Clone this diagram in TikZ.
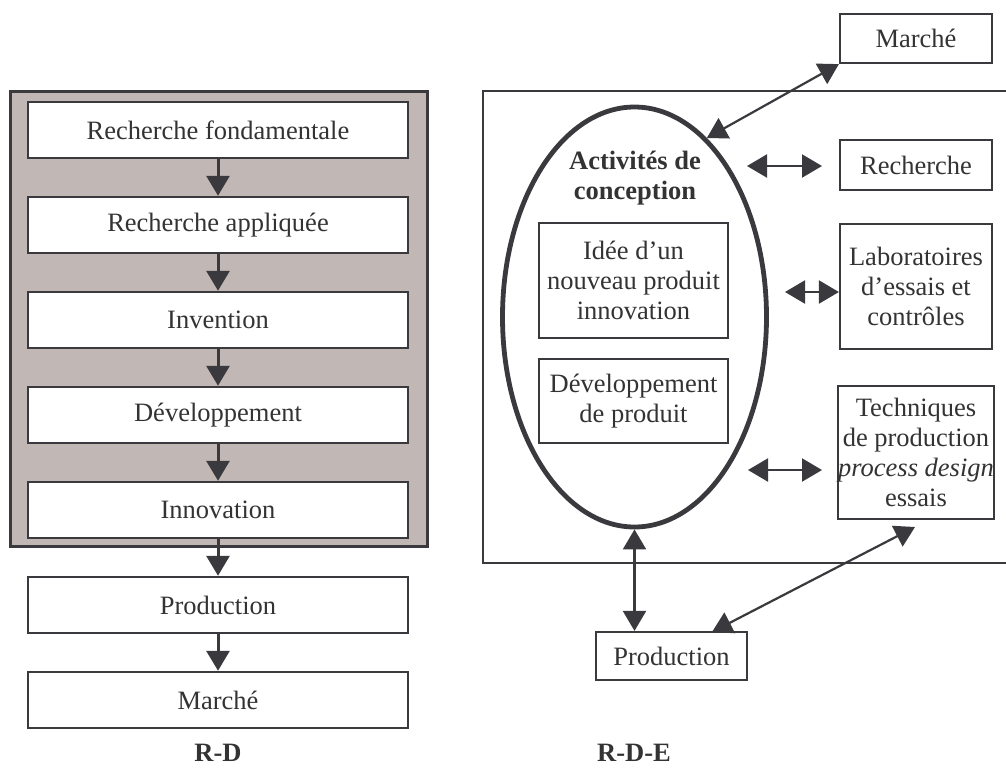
\documentclass[tikz,border=0pt]{standalone}
\usepackage{fontspec}
\setmainfont{Liberation Serif}
\usetikzlibrary{arrows.meta,shapes.geometric}
\definecolor{ink}{HTML}{3A3A3E}
\definecolor{txt}{HTML}{333333}
\definecolor{taupe}{HTML}{C1B7B4}
\begin{document}
\begin{tikzpicture}[x=0.5pt,y=-0.5pt,
  every node/.style={text=txt,font=\fontsize{13.25}{15}\selectfont},
  lbox/.style={draw=ink,line width=1.25pt,fill=white,minimum width=190pt,minimum height=28pt,inner sep=0pt},
  rbox/.style={draw=ink,line width=1.1pt,fill=white,inner sep=0pt,align=center},
  arr/.style={draw=ink,line width=1.5pt,-{Triangle[length=10pt,width=11.5pt]}},
  darr/.style={draw=ink,line width=1.1pt,{Triangle[length=10pt,width=11.5pt]}-{Triangle[length=10pt,width=11.5pt]}},
  lbl/.style={font=\fontsize{13.25}{15}\selectfont\bfseries}]
\useasboundingbox (0,0) rectangle (1006,767);
% ---------- left: R-D ----------
\node[draw=ink,line width=1.5pt,fill=taupe,minimum width=208.5pt,minimum height=227.5pt,inner sep=0pt] (frame) at (218.5,318.5) {};
\node[lbox] (b1) at (218,130) {Recherche fondamentale};
\node[lbox] (b2) at (218,225) {Recherche appliquée};
\node[lbox] (b3) at (218,320) {Invention};
\node[lbox] (b4) at (218,415) {Développement};
\node[lbox] (b5) at (218,510) {Innovation};
\node[lbox] (b6) at (218,605) {Production};
\node[lbox] (b7) at (218,700) {Marché};
\draw[arr] (b1) -- (b2);
\draw[arr] (b2) -- (b3);
\draw[arr] (b3) -- (b4);
\draw[arr] (b4) -- (b5);
\draw[arr] (b5) -- (b6);
\draw[arr] (b6) -- (b7);
\node[lbl] (lrd) at (218,753) {R-D};
% ---------- right: R-D-E ----------
\node[draw=ink,line width=1.2pt,minimum width=270pt,minimum height=236pt,inner sep=0pt] (big) at (753,327) {};
\node[draw=ink,line width=2.4pt,ellipse,minimum width=132pt,minimum height=210pt,inner sep=0pt] (ell) at (634.5,317) {};
\node[lbl,align=center] (act) at (635,178) {Activités de\\conception};
\node[rbox,minimum width=94.5pt,minimum height=57.5pt] (idee) at (633.5,280.5) {Idée d’un\\nouveau produit\\innovation};
\node[rbox,minimum width=94.5pt,minimum height=42pt] (dev) at (633.5,401) {Développement\\de produit};
\node[rbox,minimum width=76pt,minimum height=24.5pt] (mr) at (916,38.5) {Marché};
\node[rbox,minimum width=76pt,minimum height=25pt] (rech) at (916,165) {Recherche};
\node[rbox,minimum width=76pt,minimum height=62.5pt] (labo) at (916,286.5) {Laboratoires\\d’essais et\\contrôles};
\node[rbox,minimum width=76pt,minimum height=66.5pt] (tech) at (916,452.5) {Techniques\\de production\\\textit{process design}\\essais};
\node[rbox,minimum width=75.5pt,minimum height=24pt] (prod) at (671.5,656) {Production};
\node[lbl] (lrde) at (634,753) {R-D-E};
% connectors
\coordinate (r1) at (747,166);
\coordinate (r2) at (822,166);
\coordinate (l1) at (785,292);
\coordinate (t1) at (748,470);
\coordinate (t2) at (822,470);
\coordinate (tb) at (915,527);
\coordinate (pt) at (712,632);
\draw[darr] (ell.68) -- (mr.south west);
\draw[darr] (r1) -- (r2);
\draw[darr] (l1) -- (labo.west |- l1);
\draw[darr] (t1) -- (t2);
\draw[darr] (ell.south) -- (ell.south |- prod.north);
\draw[darr] (pt) -- (tb);
\end{tikzpicture}
\end{document}
